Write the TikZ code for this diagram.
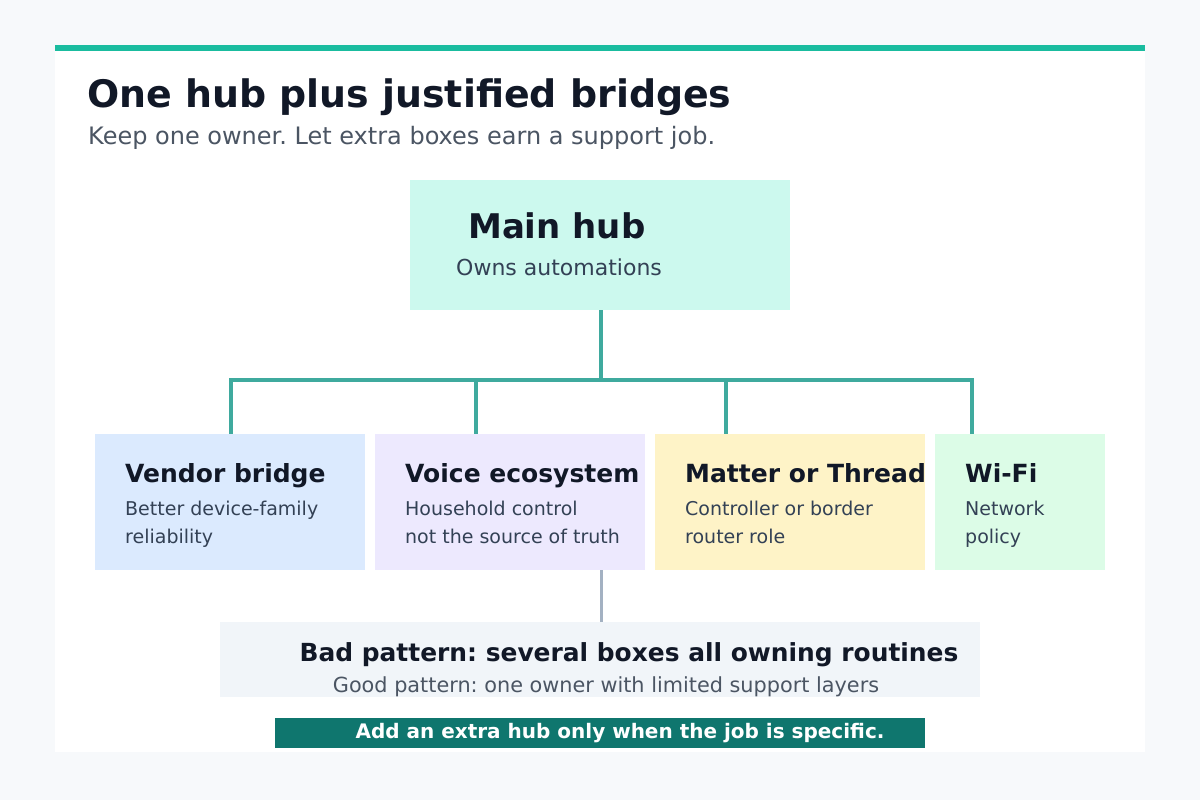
\documentclass[tikz,border=0pt]{standalone}
\usepackage{fontspec}
\setmainfont{DejaVu Sans}
\frenchspacing
\definecolor{bg}{HTML}{F7F9FB}
\definecolor{teal}{HTML}{1ABC9F}
\definecolor{line}{HTML}{3FAA9E}
\definecolor{ink}{HTML}{111827}
\definecolor{body}{HTML}{334155}
\definecolor{sub}{HTML}{4B5563}
\definecolor{mint}{HTML}{CCF9EE}
\definecolor{blu}{HTML}{DBEAFE}
\definecolor{lav}{HTML}{EDE9FE}
\definecolor{yel}{HTML}{FEF3C7}
\definecolor{grn}{HTML}{DCFCE7}
\definecolor{gry}{HTML}{F1F5F9}
\definecolor{foot}{HTML}{0F766E}
\definecolor{gline}{HTML}{A3B1C2}
\begin{document}
\begin{tikzpicture}[x=1bp,y=-1bp,
  box/.style={draw=none,anchor=north west,inner sep=0},
  ttl/.style={anchor=base west,inner sep=0,text=ink,font=\fontsize{25bp}{29bp}\selectfont\bfseries},
  bod/.style={anchor=north west,inner sep=0,text=body,align=left,font=\fontsize{19bp}{28bp}\selectfont},
  conn/.style={line,line width=3.5bp}]
\fill[bg] (0,0) rectangle (1200,800);
\useasboundingbox (0,0) rectangle (1200,800);
\fill[white] (55,45) rectangle (1145,752);
\fill[teal] (55,45) rectangle (1145,51);
\node[anchor=base west,inner sep=0,text=ink,font=\fontsize{37.9bp}{40bp}\selectfont\bfseries] (title) at (87,108) {One hub plus justified bridges};
\node[anchor=base west,inner sep=0,text=sub,font=\fontsize{24bp}{26bp}\selectfont] (subt) at (88,144) {Keep one owner. Let extra boxes earn a support job.};
% main hub
\node[box,fill=mint,minimum width=380bp,minimum height=130bp] (hub) at (410,180) {};
\node[anchor=base west,inner sep=0,text=ink,font=\fontsize{34bp}{37bp}\selectfont\bfseries] (hubt) at (468,238) {Main hub};
\node[anchor=base west,inner sep=0,text=body,font=\fontsize{22bp}{25bp}\selectfont] (hubs) at (456,275) {Owns automations};
% boxes
\node[box,fill=blu,minimum width=270bp,minimum height=136bp] (b1) at (95,434) {};
\node[box,fill=lav,minimum width=270bp,minimum height=136bp] (b2) at (375,434) {};
\node[box,fill=yel,minimum width=270bp,minimum height=136bp] (b3) at (655,434) {};
\node[box,fill=grn,minimum width=170bp,minimum height=136bp] (b4) at (935,434) {};
\node[ttl] (t1) at (125,482) {Vendor bridge};
\node[ttl] (t2) at (405,482) {Voice ecosystem};
\node[ttl] (t3) at (685,482) {Matter or Thread};
\node[ttl] (t4) at (965,482) {Wi-Fi};
\node[bod] (d1) at (125,501) {Better device-family\\reliability};
\node[bod] (d2) at (405,501) {Household control\\not the source of truth};
\node[bod] (d3) at (685,501) {Controller or border\\router role};
\node[bod] (d4) at (965,501) {Network\\policy};
% connectors
\coordinate (j) at (601,380);
\draw[conn] (hub.south -| j) -- (j);
\draw[conn] (231,380) -- (973.75,380);
\draw[conn] (231,378.25) -- (231,434);
\draw[conn] (476,380) -- (476,434);
\draw[conn] (726,380) -- (726,434);
\draw[conn] (972,378.25) -- (972,434);
% bad pattern
\node[box,fill=gry,minimum width=760bp,minimum height=75bp] (bad) at (220,622) {};
\draw[gline,line width=3bp] (601,570) -- (601,622);
\node[anchor=base,inner sep=0,text=ink,font=\fontsize{24.9bp}{28bp}\selectfont\bfseries] (badt) at (629,661) {Bad pattern: several boxes all owning routines};
\node[anchor=base,inner sep=0,text=sub,font=\fontsize{20.8bp}{24bp}\selectfont] (good) at (606,692) {Good pattern: one owner with limited support layers};
% footer
\node[box,fill=foot,minimum width=650bp,minimum height=30bp] (ft) at (275,718) {};
\node[anchor=base,inner sep=0,text=white,font=\fontsize{20bp}{22bp}\selectfont\bfseries] (ftt) at (620,738) {Add an extra hub only when the job is specific.};
\end{tikzpicture}
\end{document}
